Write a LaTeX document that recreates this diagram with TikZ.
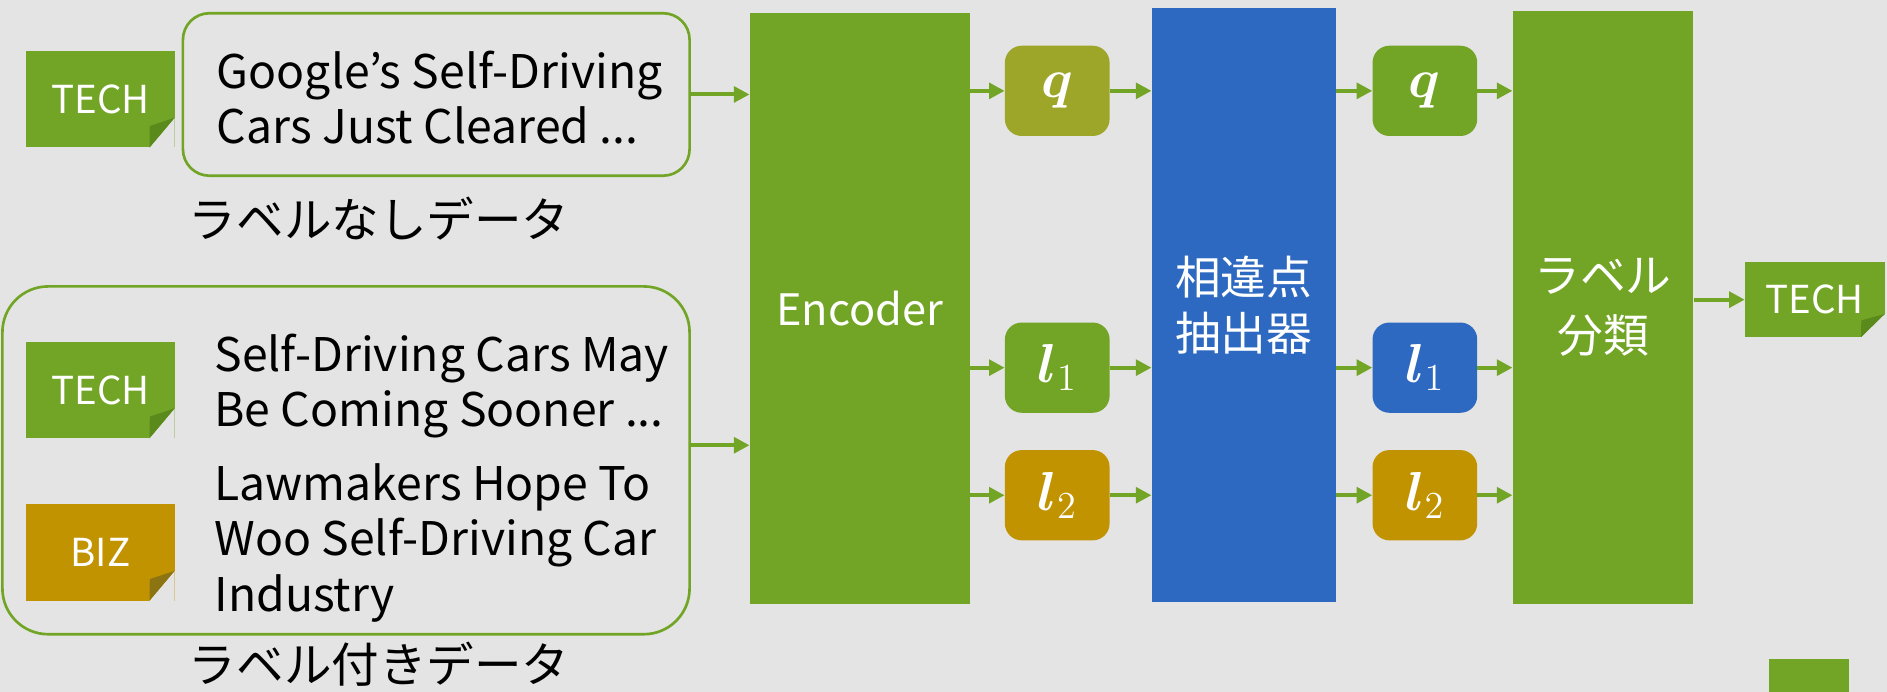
\documentclass[tikz,border=0pt]{standalone}
\usepackage{amsmath}
\usepackage{graphicx}
\usepackage{fontspec}
\setmainfont{Noto Sans CJK JP}
\usetikzlibrary{arrows.meta,calc}
\definecolor{bg}{HTML}{E4E4E4}
\definecolor{grn}{HTML}{72A525}
\definecolor{grnd}{HTML}{5A8A1C}
\definecolor{olv}{HTML}{9DA628}
\definecolor{gld}{HTML}{C29300}
\definecolor{gldd}{HTML}{8C7412}
\definecolor{blu}{HTML}{2D69C0}
\tikzset{
  blk/.style={fill=#1, draw=none, inner sep=0pt, text=white, align=center},
  vec/.style={blk=#1, rounded corners=14pt, minimum width=87pt, minimum height=75pt},
  tagbox/.style={blk=#1, minimum width=123pt, minimum height=80pt, font=\fontsize{32}{34}\selectfont},
  frame/.style={draw=grn, line width=2.2pt, fill=none},
  txt/.style={anchor=west, align=left, inner sep=0pt, font=\fontsize{38.5}{46}\selectfont},
  jp/.style={inner sep=0pt, font=\fontsize{39.5}{46}\selectfont},
  arr/.style={draw=grn, line width=3.3pt, -{Triangle[length=13pt,width=13pt]}},
}
\newcommand{\tagfold}[2]{%
  \coordinate (#1-a) at ($(#1.south east)!0.31!(#1.north east)$);
  \coordinate (#1-b) at ($(#1.south east)!0.17!(#1.south west)$);
  \fill[bg] (#1.south east) -- (#1-a) -- (#1-b) -- cycle;
  \coordinate (#1-m) at ($(#1-a)!0.5!(#1-b)$);
  \coordinate (#1-c) at ($(#1-m)!0.2!(#1.center)$);
  \fill[#2] (#1-a) -- (#1-b) -- (#1-c) -- cycle;
}
\newcommand{\mth}[1]{{\fontsize{20}{22}\selectfont\scalebox{2.2}{$#1$}}}
\begin{document}
\begin{tikzpicture}[x=1pt,y=-1pt]
\fill[bg] (0,0) rectangle (1568,575);
\useasboundingbox (0,0) rectangle (1568,575);

% input frames
\node[frame, rounded corners=22pt, minimum width=421pt, minimum height=135pt] (topbox) at (362.5,78.5) {};
\node[frame, rounded corners=38pt, minimum width=571pt, minimum height=289pt] (botbox) at (287.5,382.5) {};

% tags
\node[tagbox=grn] (t1) at (83.5,82.5) {TECH};
\tagfold{t1}{grnd}
\node[tagbox=grn] (t2) at (83.5,324) {TECH};
\tagfold{t2}{grnd}
\node[tagbox=gld] (t3) at (83.5,459) {BIZ};
\tagfold{t3}{gldd}

% texts
\node[txt] (s1) at (180,81) {Google’s Self-Driving\\Cars Just Cleared ...};
\node[txt] (s2) at (178,321) {Self-Driving Cars May\\Be Coming Sooner ...};
\node[txt] (s3) at (178,451) {Lawmakers Hope To\\Woo Self-Driving Car\\Industry};
\node[jp] (lu) at (315,182) {ラベルなしデータ};
\node[jp] (ll) at (315,552) {ラベル付きデータ};

% main blocks
\node[blk=grn, minimum width=183pt, minimum height=491pt, font=\fontsize{36}{44}\selectfont] (enc) at (714.5,256) {Encoder};
\node[blk=blu, minimum width=153pt, minimum height=493pt, font=\fontsize{38}{47}\selectfont] (dif) at (1033.5,253.5) {相違点\\抽出器};
\node[blk=grn, minimum width=150pt, minimum height=493pt, font=\fontsize{38}{50}\selectfont] (cls) at (1332,255.5) {ラベル\\分類};

% vectors
\node[vec=olv] (q1) at (878.5,75.5) {\mth{\boldsymbol{q}}};
\node[vec=grn] (a1) at (878.5,305.5) {\mth{\boldsymbol{l}_1}};
\node[vec=gld] (b1) at (878.5,411.5) {\mth{\boldsymbol{l}_2}};
\node[vec=grn] (q2) at (1184,75.5) {\mth{\boldsymbol{q}}};
\node[vec=blu] (a2) at (1184,305.5) {\mth{\boldsymbol{l}_1}};
\node[vec=gld] (b2) at (1184,411.5) {\mth{\boldsymbol{l}_2}};

% output
\node[tagbox=grn, minimum width=116pt, minimum height=62pt] (out) at (1508,249) {TECH};
\tagfold{out}{grnd}
\node[blk=grn, minimum width=66pt, minimum height=34pt] (sq) at (1503,565) {};

% arrows
\coordinate (bo) at ($(botbox.north east)!0.457!(botbox.south east)$);
\draw[arr] (topbox.east) -- (topbox.east -| enc.west);
\draw[arr] (bo) -- (bo -| enc.west);
\draw[arr] (enc.east |- q1.west) -- (q1.west);
\draw[arr] (enc.east |- a1.west) -- (a1.west);
\draw[arr] (enc.east |- b1.west) -- (b1.west);
\draw[arr] (q1.east) -- (q1.east -| dif.west);
\draw[arr] (a1.east) -- (a1.east -| dif.west);
\draw[arr] (b1.east) -- (b1.east -| dif.west);
\draw[arr] (dif.east |- q2.west) -- (q2.west);
\draw[arr] (dif.east |- a2.west) -- (a2.west);
\draw[arr] (dif.east |- b2.west) -- (b2.west);
\draw[arr] (q2.east) -- (q2.east -| cls.west);
\draw[arr] (a2.east) -- (a2.east -| cls.west);
\draw[arr] (b2.east) -- (b2.east -| cls.west);
\draw[arr] (cls.east |- out.west) -- (out.west);
\end{tikzpicture}
\end{document}
